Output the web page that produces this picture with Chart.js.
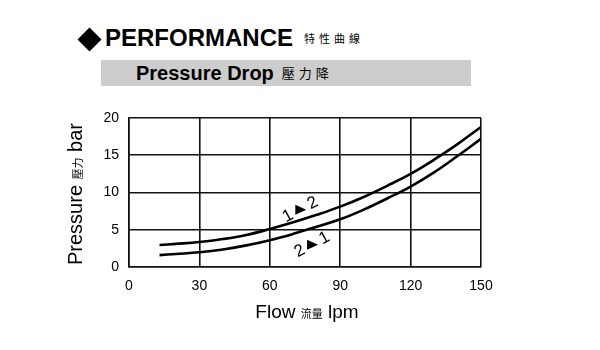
<!DOCTYPE html>
<html>
<head>
<meta charset="utf-8">
<script src="https://cdn.jsdelivr.net/npm/chart.js@4"></script>
<style>
  body { margin: 0; background: #fff; font-family: "Liberation Sans", Arial, sans-serif; }
  #wrap { position: relative; width: 600px; height: 350px; overflow: hidden; }
  #diamond { position: absolute; left: 81px; top: 31px; width: 17px; height: 17px; background: #000; transform: rotate(45deg); }
  #head { position: absolute; left: 105px; top: 24px; font-weight: bold; font-size: 24px; color: #000; white-space: nowrap; }
  #head small { font-family: "Noto Sans CJK TC", sans-serif; font-weight: normal; font-size: 11px; letter-spacing: 4px; margin-left: 11px; vertical-align: 3px; }
  #bar { position: absolute; left: 101px; top: 60px; width: 370px; height: 26px; background: #cdcdcd; }
  #bar span { position: absolute; left: 35px; top: 2px; font-weight: bold; font-size: 20px; white-space: nowrap; }
  #bar small { font-family: "Noto Sans CJK TC", sans-serif; font-weight: normal; font-size: 13px; letter-spacing: 4px; margin-left: 8px; vertical-align: 2px; }
  #chart { position: absolute; left: 0; top: 0; }
</style>
</head>
<body>
<div id="wrap">
  <div id="diamond"></div>
  <div id="head">PERFORMANCE<small>特性曲線</small></div>
  <div id="bar"><span>Pressure Drop<small>壓力降</small></span></div>
  <canvas id="chart" width="600" height="350"></canvas>
</div>
<script>
// flow (lpm) and pressure drop (bar) for both directions
const flow = [13, 20, 30, 40, 50, 60, 70, 80, 90, 100, 110, 120, 130, 140, 150];
const drop12 = [2.95, 3.1, 3.35, 3.75, 4.3, 5.1, 6.0, 7.0, 8.1, 9.4, 10.9, 12.5, 14.4, 16.5, 18.8];
const drop21 = [1.6, 1.75, 1.97, 2.35, 2.9, 3.6, 4.45, 5.4, 6.4, 7.7, 9.2, 10.8, 12.7, 14.9, 17.2];
const xTicks = [0, 30, 60, 90, 120, 150];
const yTicks = [0, 5, 10, 15, 20];

const toPoints = (ys) => ys.map((y, i) => ({ x: flow[i], y: y }));

// "1 ▶ 2" style tags along the curves
function drawTag(ctx, x, y, a, b) {
    const ang = -28 * Math.PI / 180;
    ctx.save();
    ctx.translate(x, y);
    ctx.fillStyle = '#000';
    // arrow head stays pointing right
    ctx.beginPath();
    ctx.moveTo(-5, -5);
    ctx.lineTo(6, 0);
    ctx.lineTo(-5, 5);
    ctx.closePath();
    ctx.fill();
    ctx.rotate(ang);
    ctx.font = '17px "Liberation Sans", Arial, sans-serif';
    ctx.textAlign = 'center';
    ctx.textBaseline = 'middle';
    ctx.fillText(a, -14, 0);
    ctx.fillText(b, 14, 0);
    ctx.restore();
}

const extras = {
    id: 'extras',
    afterDraw(chart) {
        const ctx = chart.ctx;
        const xs = chart.scales.x, ys = chart.scales.y;
        drawTag(ctx, xs.getPixelForValue(73), ys.getPixelForValue(7.7), '1', '2');
        drawTag(ctx, xs.getPixelForValue(78), ys.getPixelForValue(3.0), '2', '1');

        // axis titles with smaller CJK part
        ctx.save();
        ctx.fillStyle = '#000';
        ctx.textBaseline = 'alphabetic';
        const parts = [
            ['Flow ', '19px "Liberation Sans", Arial, sans-serif'],
            ['流量', '11px "Noto Sans CJK TC", sans-serif'],
            [' lpm', '19px "Liberation Sans", Arial, sans-serif']
        ];
        let w = 0;
        parts.forEach(p => { ctx.font = p[1]; w += ctx.measureText(p[0]).width; });
        let cx = (chart.chartArea.left + chart.chartArea.right) / 2 - w / 2 + 2;
        parts.forEach(p => { ctx.font = p[1]; ctx.fillText(p[0], cx, 318); cx += ctx.measureText(p[0]).width; });

        const vparts = [
            ['Pressure ', '20px "Liberation Sans", Arial, sans-serif'],
            ['壓力', '11px "Noto Sans CJK TC", sans-serif'],
            [' bar', '20px "Liberation Sans", Arial, sans-serif']
        ];
        w = 0;
        vparts.forEach(p => { ctx.font = p[1]; w += ctx.measureText(p[0]).width; });
        ctx.translate(82, 194);
        ctx.rotate(-Math.PI / 2);
        let vx = -w / 2;
        vparts.forEach(p => { ctx.font = p[1]; ctx.fillText(p[0], vx, 0); vx += ctx.measureText(p[0]).width; });
        ctx.restore();
    }
};

const lineStyle = { borderColor: '#000', borderWidth: 2.6, pointRadius: 0, fill: false, tension: 0.4 };

new Chart(document.getElementById('chart'), {
    type: 'line',
    data: {
        datasets: [
            Object.assign({ label: '1-2', data: toPoints(drop12) }, lineStyle),
            Object.assign({ label: '2-1', data: toPoints(drop21) }, lineStyle)
        ]
    },
    options: {
        responsive: false,
        animation: false,
        layout: { padding: { left: 0, top: 118, right: 119, bottom: 0 } },
        plugins: { legend: { display: false }, tooltip: { enabled: false } },
        scales: {
            x: {
                type: 'linear', min: 0, max: 150,
                afterBuildTicks: (s) => { s.ticks = xTicks.map(v => ({ value: v })); },
                afterFit: (s) => { s.height = 83; },
                grid: { color: '#111', lineWidth: 1.6, drawTicks: false },
                border: { color: '#111', width: 1.6 },
                ticks: { color: '#000', padding: 11, maxRotation: 0, font: { family: '"Liberation Sans", Arial', size: 14 } }
            },
            y: {
                min: 0, max: 20,
                afterBuildTicks: (s) => { s.ticks = yTicks.map(v => ({ value: v })); },
                afterFit: (s) => { s.width = 129; },
                grid: { color: '#111', lineWidth: 1.6, drawTicks: false },
                border: { color: '#111', width: 1.6 },
                ticks: { color: '#000', padding: 10, font: { family: '"Liberation Sans", Arial', size: 14 } }
            }
        }
    },
    plugins: [extras]
});
</script>
</body>
</html>
